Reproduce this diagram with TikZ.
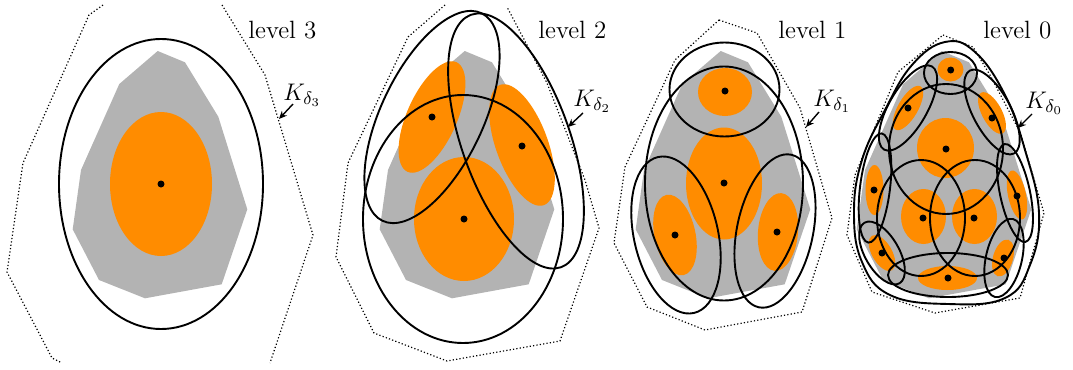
\documentclass[tikz,border=0pt]{standalone}
\usetikzlibrary{arrows.meta}
\definecolor{myorange}{RGB}{255,140,0}
\definecolor{mygray}{RGB}{179,179,179}
\newcommand\regionpath{(157.7,51) -- (185,62.3) -- (218.3,116.7) -- (247.3,209.3) -- (221.7,284.3) -- (145,298.3) -- (99,280) -- (72.7,229.3) -- (81,170) -- (119.3,84) -- cycle}
\tikzset{
  region/.style={fill=mygray},
  blob/.style={fill=myorange},
  cover/.style={draw=black, line width=0.95pt},
  hull/.style={draw=black, line width=0.6pt, dash pattern=on 0.6pt off 1.1pt},
  ctr/.style={fill=black},
  lbl/.style={font=\fontsize{12.5}{15}\selectfont, inner sep=0pt},
  pointer/.style={-{Stealth[length=4pt,width=3.5pt]}, line width=0.7pt}
}
\begin{document}
\begin{tikzpicture}[x=0.5pt,y=-0.5pt]
\useasboundingbox (0,0) rectangle (1073,370);

% ---------------- level 3 ----------------
\fill[region] \regionpath;
\fill[blob] (161,184) ellipse [x radius=51, y radius=72];
\draw[cover] (161,184) ellipse [x radius=102, y radius=145];
\fill[ctr] (161,184) circle [radius=3.5];
\draw[hull] (103,5) -- (89,15) -- (23,163) -- (7,272) -- (52,358) -- (62,363);
\draw[hull] (222,5) -- (265,75) -- (313,235) -- (270,363);
\node[lbl, anchor=base west] (lv3) at (248,38) {level 3};
\node[lbl, anchor=base west] (k3) at (283,100) {$K_{\delta_3}$};
\coordinate (t3) at (279,119);
\draw[pointer] (293,104) -- (t3);

% ---------------- level 2 ----------------
\begin{scope}[shift={(307,0)}]
\fill[region] \regionpath;
\end{scope}
\fill[blob] (464,219) ellipse [x radius=50, y radius=62];
\fill[blob, rotate around={66:(432,117)}] (432,117) ellipse [x radius=60, y radius=25];
\fill[blob, rotate around={-70:(522,145)}] (522,145) ellipse [x radius=64, y radius=26];
\draw[cover] (463,219) ellipse [x radius=100, y radius=124];
\draw[cover, rotate around={64.5:(432,117)}] (432,117) ellipse [x radius=115, y radius=51];
\draw[cover, rotate around={-70.4:(516,141)}] (516,141) ellipse [x radius=134, y radius=54];
\fill[ctr] (464,219) circle [radius=3.5];
\fill[ctr] (432,117) circle [radius=3.5];
\fill[ctr] (522,146) circle [radius=3.5];
\draw[hull] (445,5) -- (408,37) -- (348,163) -- (336,257) -- (374,333) -- (447,361) -- (560,341) -- (599,228) -- (585,180) -- (547,83) -- (507,7);
\node[lbl, anchor=base west] (lv2) at (538,38) {level 2};
\node[lbl, anchor=base west] (k2) at (573,106) {$K_{\delta_2}$};
\coordinate (t2) at (568,127);
\draw[pointer] (583,113) -- (t2);

% ---------------- level 1 ----------------
\begin{scope}[shift={(563,0)}]
\fill[region] \regionpath;
\end{scope}
\fill[blob] (725,92) ellipse [x radius=27, y radius=24];
\fill[blob] (724,183.5) ellipse [x radius=38, y radius=56];
\fill[blob, rotate around={-78:(675,235)}] (675,235) ellipse [x radius=41, y radius=20.5];
\fill[blob, rotate around={85:(778,232)}] (778,232) ellipse [x radius=39, y radius=20];
\draw[cover] (724.5,89.5) ellipse [x radius=55, y radius=47];
\draw[cover] (724,183.5) ellipse [x radius=79, y radius=117];
\draw[cover, rotate around={-77:(676,235)}] (676,235) ellipse [x radius=80, y radius=42];
\draw[cover, rotate around={78:(775,231)}] (775,231) ellipse [x radius=78, y radius=38];
\fill[ctr] (725,91) circle [radius=3.5];
\fill[ctr] (724,183) circle [radius=3.5];
\fill[ctr] (675,235) circle [radius=3.5];
\fill[ctr] (777,232) circle [radius=3.5];
\draw[hull] (719,20) -- (757,33) -- (800,108) -- (832,218) -- (802,312) -- (705,330) -- (647,307) -- (614,243) -- (625,167) -- (675,60) -- cycle;
\node[lbl, anchor=base west] (lv1) at (778,38) {level 1};
\node[lbl, anchor=base west] (k1) at (813,106) {$K_{\delta_1}$};
\coordinate (t1) at (806,127);
\draw[pointer] (819,112) -- (t1);

% ---------------- level 0 ----------------
\begin{scope}[shift={(784,0)}]
\fill[region] \regionpath;
\end{scope}
\fill[blob] (950.5,69.5) ellipse [x radius=13, y radius=12];
\fill[blob, rotate around={60:(908,108)}] (908,108) ellipse [x radius=25, y radius=10];
\fill[blob, rotate around={-62:(992,113)}] (992,113) ellipse [x radius=23, y radius=10];
\fill[blob] (945.5,148) ellipse [x radius=28.5, y radius=30];
\fill[blob] (874.5,190) ellipse [x radius=9, y radius=25];
\fill[blob, rotate around={-78:(1017,195)}] (1017,195) ellipse [x radius=25, y radius=9];
\fill[blob] (923.5,216.5) ellipse [x radius=22.5, y radius=27.5];
\fill[blob] (974.5,216.5) ellipse [x radius=22.5, y radius=27.5];
\fill[blob, rotate around={-60:(882,253)}] (882,253) ellipse [x radius=20, y radius=10];
\fill[blob, rotate around={74:(1003,258)}] (1003,258) ellipse [x radius=19, y radius=10];
\fill[blob] (947.5,278) ellipse [x radius=29.5, y radius=12];

\draw[cover] plot[smooth cycle, tension=0.7] coordinates {(945,42) (975,52) (1005,95) (1025,150) (1039,213) (1030,265) (1005,298) (948,304) (890,295) (862,262) (854,212) (862,160) (885,110) (912,65)};
\draw[cover] (950.5,73) ellipse [x radius=26.5, y radius=21];
\draw[cover, rotate around={60:(908,108)}] (908,108) ellipse [x radius=48, y radius=19];
\draw[cover, rotate around={-62:(992,112)}] (992,112) ellipse [x radius=47, y radius=19];
\draw[cover] (946,149) ellipse [x radius=57, y radius=65];
\draw[cover, rotate around={83:(875,188)}] (875,188) ellipse [x radius=55, y radius=15];
\draw[cover, rotate around={-78:(1015,193)}] (1015,193) ellipse [x radius=50, y radius=15];
\draw[cover] (921,218) ellipse [x radius=44, y radius=58];
\draw[cover] (975,218) ellipse [x radius=45, y radius=58];
\draw[cover, rotate around={-60:(882,253)}] (882,253) ellipse [x radius=35, y radius=17];
\draw[cover, rotate around={77:(1004,258)}] (1004,258) ellipse [x radius=40, y radius=18];
\draw[cover] (948,275) ellipse [x radius=60, y radius=22];

\foreach \p in {(950.7,70),(908,108),(992,118),(946,149),(874,190),(1017,196),(923,218),(974,218),(882,253),(1004,258),(948,278)}
  \fill[ctr] \p circle [radius=3.5];
\draw[hull] (943,35) -- (973,47) -- (990,75) -- (1020,132) -- (1044,213) -- (1020,298) -- (935,313) -- (872,292) -- (847,235) -- (855,175) -- (898,72) -- cycle;
\node[lbl, anchor=base west] (lv0) at (983,38) {level 0};
\node[lbl, anchor=base west] (k0) at (1025,108) {$K_{\delta_0}$};
\coordinate (t0) at (1018,128);
\draw[pointer] (1032,114) -- (t0);
\end{tikzpicture}
\end{document}
